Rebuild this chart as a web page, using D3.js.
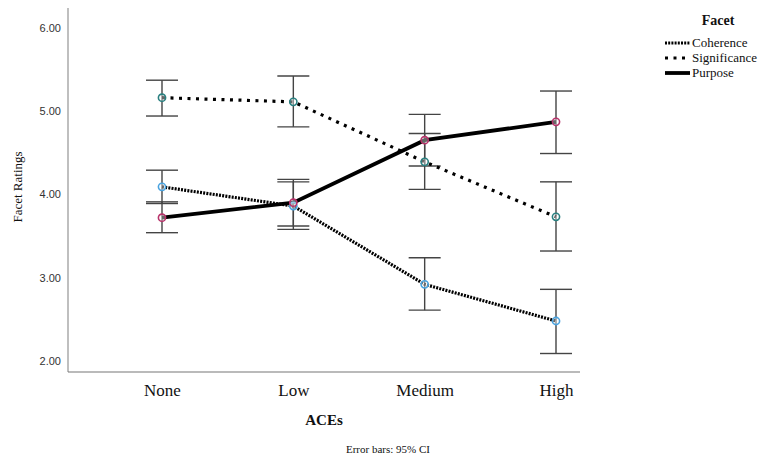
<!DOCTYPE html>
<html>
<head>
<meta charset="utf-8">
<script src="https://cdn.jsdelivr.net/npm/d3@7"></script>
<style>
  body { margin: 0; background: #fff; }
</style>
</head>
<body>
<div id="chart"></div>
<script>
var svgWidth = 764;
var svgHeight = 459;

// data
var categories = ["None", "Low", "Medium", "High"];
var facets = ["Coherence", "Significance", "Purpose"];
var coherenceMean = [4.09, 3.86, 2.92, 2.48];
var coherenceLow = [3.89, 3.58, 2.61, 2.09];
var coherenceHigh = [4.29, 4.15, 3.24, 2.86];
var significanceMean = [5.16, 5.11, 4.39, 3.73];
var significanceLow = [4.94, 4.81, 4.06, 3.32];
var significanceHigh = [5.37, 5.42, 4.73, 4.15];
var purposeMean = [3.72, 3.90, 4.65, 4.87];
var purposeLow = [3.54, 3.62, 4.34, 4.49];
var purposeHigh = [3.91, 4.18, 4.96, 5.24];
var yTicks = [2, 3, 4, 5, 6];

var serif = "'Liberation Serif', 'Times New Roman', serif";

var series = [
  { name: facets[0], mean: coherenceMean, lo: coherenceLow, hi: coherenceHigh,
    dash: "2,1.2", width: 3.2, color: "#4aa3df" },
  { name: facets[1], mean: significanceMean, lo: significanceLow, hi: significanceHigh,
    dash: "3,5.5", width: 3.2, color: "#2a8080" },
  { name: facets[2], mean: purposeMean, lo: purposeLow, hi: purposeHigh,
    dash: null, width: 3.8, color: "#b8336a" }
];

var svg = d3.select("#chart")
  .append("svg")
  .attr("width", svgWidth)
  .attr("height", svgHeight);

var x = d3.scalePoint()
  .domain(categories)
  .range([162, 556]);

var y = d3.scaleLinear()
  .domain([2, 6])
  .range([361, 27.7]);

// axes (SPSS style, no tick marks)
var leftAxis = d3.axisLeft(y)
  .tickValues(yTicks)
  .tickFormat(d3.format(".2f"))
  .tickSize(0)
  .tickPadding(7);

var gy = svg.append("g")
  .attr("transform", "translate(68,0)")
  .call(leftAxis);
gy.select(".domain").remove();
gy.selectAll("text")
  .style("font-family", "'Liberation Sans', Arial, sans-serif")
  .style("font-size", "11px")
  .attr("fill", "#333");

svg.append("line")
  .attr("x1", 68).attr("x2", 68)
  .attr("y1", 8).attr("y2", 372)
  .attr("stroke", "#aaa").attr("stroke-width", 1.5);

svg.append("line")
  .attr("x1", 68).attr("x2", 580)
  .attr("y1", 372).attr("y2", 372)
  .attr("stroke", "#777").attr("stroke-width", 1.2);

var bottomAxis = d3.axisBottom(x).tickSize(0).tickPadding(12);
var gx = svg.append("g")
  .attr("transform", "translate(0,372)")
  .call(bottomAxis);
gx.select(".domain").remove();
gx.selectAll("text")
  .style("font-family", serif)
  .style("font-size", "17px")
  .attr("fill", "#111");

// error bars
var capHalf = 16;
series.forEach(function(s) {
  var g = svg.append("g");
  categories.forEach(function(c, i) {
    var cx = x(c);
    g.append("line")
      .attr("x1", cx).attr("x2", cx)
      .attr("y1", y(s.lo[i])).attr("y2", y(s.hi[i]))
      .attr("stroke", "#444").attr("stroke-width", 1.4);
    [s.lo[i], s.hi[i]].forEach(function(v) {
      g.append("line")
        .attr("x1", cx - capHalf).attr("x2", cx + capHalf)
        .attr("y1", y(v)).attr("y2", y(v))
        .attr("stroke", "#444").attr("stroke-width", 1.4);
    });
  });
});

// lines
var line = d3.line()
  .x(function(d, i) { return x(categories[i]); })
  .y(function(d) { return y(d); });

series.forEach(function(s) {
  svg.append("path")
    .datum(s.mean)
    .attr("d", line)
    .attr("fill", "none")
    .attr("stroke", "#000")
    .attr("stroke-width", s.width)
    .attr("stroke-dasharray", s.dash);
});

// points
series.forEach(function(s) {
  svg.selectAll(null)
    .data(s.mean)
    .enter()
    .append("circle")
    .attr("cx", function(d, i) { return x(categories[i]); })
    .attr("cy", function(d) { return y(d); })
    .attr("r", 3.6)
    .attr("fill", "#fff")
    .attr("fill-opacity", 0.4)
    .attr("stroke", s.color)
    .attr("stroke-width", 1.6);
});

// labels
svg.append("text")
  .attr("transform", "translate(22,187) rotate(-90)")
  .attr("text-anchor", "middle")
  .attr("font-family", serif)
  .attr("font-size", "13px")
  .attr("fill", "#111")
  .text("Facet Ratings");

svg.append("text")
  .attr("x", 324).attr("y", 425)
  .attr("text-anchor", "middle")
  .attr("font-family", serif)
  .attr("font-size", "15px")
  .attr("font-weight", "bold")
  .attr("fill", "#111")
  .text("ACEs");

svg.append("text")
  .attr("x", 388).attr("y", 453)
  .attr("text-anchor", "middle")
  .attr("font-family", serif)
  .attr("font-size", "11px")
  .attr("fill", "#111")
  .text("Error bars: 95% CI");

// legend
var legend = svg.append("g");
legend.append("text")
  .attr("x", 718).attr("y", 25)
  .attr("text-anchor", "middle")
  .attr("font-family", serif)
  .attr("font-size", "14px")
  .attr("font-weight", "bold")
  .attr("fill", "#111")
  .text("Facet");

series.forEach(function(s, i) {
  var ly = 43 + i * 15;
  legend.append("line")
    .attr("x1", 665).attr("x2", 690)
    .attr("y1", ly).attr("y2", ly)
    .attr("stroke", "#000")
    .attr("stroke-width", s.width)
    .attr("stroke-dasharray", s.dash);
  legend.append("text")
    .attr("x", 692).attr("y", ly + 4)
    .attr("font-family", serif)
    .attr("font-size", "13px")
    .attr("fill", "#111")
    .text(s.name);
});
</script>
</body>
</html>
